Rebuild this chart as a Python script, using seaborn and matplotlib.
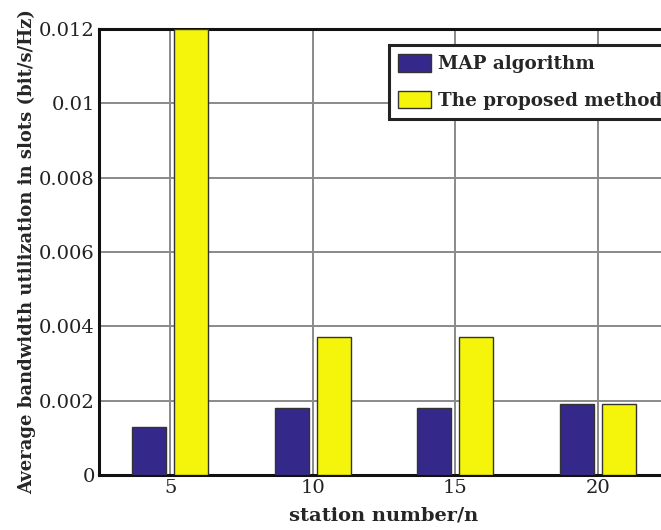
import pandas as pd
import seaborn as sns
import matplotlib.pyplot as plt
from matplotlib.ticker import FormatStrFormatter

# values
stations = ['5', '10', '15', '20']
map_alg = [0.0013, 0.0018, 0.0018, 0.0019]
proposed = [0.012, 0.0037, 0.0037, 0.0019]
methods = ['MAP algorithm', 'The proposed method']
yticks = [0, 0.002, 0.004, 0.006, 0.008, 0.01, 0.012]

df = pd.DataFrame({
    'station': stations * 2,
    'value': map_alg + proposed,
    'method': [methods[0]] * 4 + [methods[1]] * 4,
})

sns.set_style('white')
plt.rcParams['font.family'] = ['DejaVu Serif']

fig = plt.figure(figsize=(6.61, 5.30), dpi=100)
# axes run past the right edge, the original image is cropped there
ax = fig.add_axes([99 / 661, 55 / 530, 570 / 661, 446 / 530])

sns.barplot(data=df, x='station', y='value', hue='method', ax=ax,
            palette=['#34298A', '#F5F50C'], saturation=1, width=0.59, gap=0.2,
            edgecolor='#333333', linewidth=1.0, zorder=3)

ax.set_xlim(-0.5, 3.5)
ax.set_ylim(0, 0.012)
ax.set_yticks(yticks)
ax.yaxis.set_major_formatter(FormatStrFormatter('%g'))
ax.grid(True, color='#8a8a8a', linewidth=1.4, zorder=0)
ax.set_axisbelow(True)
ax.tick_params(direction='in', length=5, width=1.2, labelsize=14, pad=3,
               colors='black')
for t in ax.get_xticklabels() + ax.get_yticklabels():
    t.set_color('#222222')

for s in ['left', 'bottom', 'top']:
    ax.spines[s].set_linewidth(2.2)
    ax.spines[s].set_color('#111111')
ax.spines['right'].set_visible(False)

ax.set_xlabel('station number/n', fontsize=14, fontweight='bold', labelpad=7)
ax.set_ylabel('Average bandwidth utilization in slots (bit/s/Hz)',
              fontsize=13, fontweight='bold', labelpad=2)

leg = ax.legend(loc='upper left', bbox_to_anchor=(389 / 661, 485 / 530),
                bbox_transform=fig.transFigure, borderaxespad=0,
                fancybox=False, framealpha=1, edgecolor='#222222',
                prop={'weight': 'bold', 'size': 13.2}, handlelength=1.8,
                handleheight=1.1, handletextpad=0.35, labelspacing=0.95,
                borderpad=0.5)
leg.get_frame().set_linewidth(2.2)

fig.savefig('out.png', dpi=100)
